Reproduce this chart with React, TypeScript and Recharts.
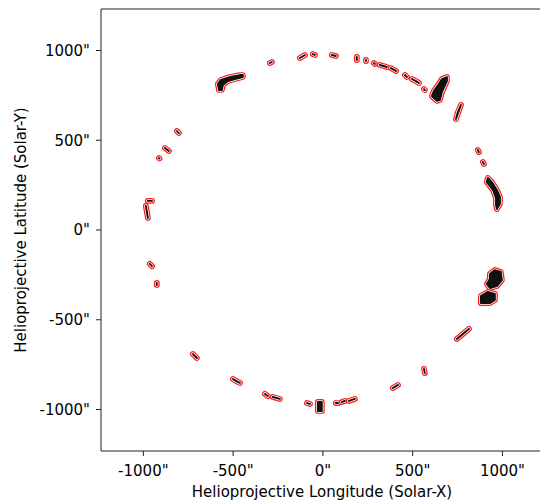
import { Label, Scatter, ScatterChart, XAxis, YAxis } from "recharts";

// contour outlines in arcsec, [Solar-X, Solar-Y]
const northRegions: [number, number][][] = [
  [[-579, 780], [-585, 813], [-568, 836], [-518, 852], [-462, 863], [-446, 863], [-446, 852], [-490, 841], [-529, 830], [-557, 808], [-563, 780]],
  [[-295, 930], [-284, 936]],
  [[-128, 958], [-100, 975]],
  [[-56, 980], [-45, 975]],
  [[50, 975], [72, 969]],
  [[189, 964], [189, 947]],
  [[240, 947], [240, 941]],
  [[284, 930], [290, 925]],
  [[317, 919], [356, 908]],
  [[379, 902], [407, 886]],
  [[457, 863], [468, 852]],
  [[496, 841], [518, 830], [535, 819]],
  [[563, 785], [568, 780]],
  [[663, 841], [691, 852], [691, 830], [663, 769], [652, 724], [635, 719], [607, 746], [618, 774], [646, 813]],
  [[769, 696], [752, 657], [741, 618]],
];

const westRegions: [number, number][][] = [
  [[863, 446], [869, 434]],
  [[891, 379], [897, 368]],
  [[919, 290], [941, 267], [969, 223], [986, 184], [986, 145], [969, 117], [964, 139], [964, 178], [947, 223], [913, 267]],
  [[930, -245], [958, -223], [991, -234], [997, -279], [969, -312], [930, -323], [913, -301], [930, -273]],
  [[880, -368], [919, -345], [958, -356], [958, -390], [930, -407], [880, -407]],
  [[813, -551], [780, -579], [746, -607]],
];

const southRegions: [number, number][][] = [
  [[563, -774], [568, -797]],
  [[390, -880], [418, -863]],
  [[72, -964], [84, -964]],
  [[106, -958], [123, -952]],
  [[145, -952], [178, -941]],
  [[-28, -958], [-6, -958], [-6, -1008], [-28, -1008]],
  [[-89, -964], [-72, -969]],
  [[-323, -913], [-306, -925]],
  [[-279, -930], [-240, -941]],
  [[-501, -830], [-485, -841], [-462, -852]],
  [[-724, -691], [-702, -713]],
];

const eastRegions: [number, number][][] = [
  [[-975, 162], [-952, 162]],
  [[-986, 134], [-980, 100], [-975, 67]],
  [[-964, -189], [-952, -201]],
  [[-925, -295], [-925, -306]],
  [[-880, 457], [-858, 440]],
  [[-913, 401], [-910, 398]],
  [[-813, 551], [-802, 540]],
];

const axisTicks = [-1000, -500, 0, 500, 1000];
const xDomain = [-1236, 1226];
const yDomain = [-1231, 1231];

const FONT = "DejaVu Sans";
const RED = "#ff1a1a";

const regions = [...northRegions, ...westRegions, ...southRegions, ...eastRegions];

const blobLine = (props: any) => {
  const pts: { x: number; y: number }[] = props.points || [];
  if (!pts.length) return <g />;
  const d = pts.map((p, i) => `${i ? "L" : "M"}${p.x},${p.y}`).join("") + "Z";
  const common = { strokeLinejoin: "round" as const, strokeLinecap: "round" as const };
  return (
    <g>
      <path d={d} fill={RED} stroke={RED} strokeWidth={5.8} {...common} />
      <path d={d} fill="#fff" stroke="#fff" strokeWidth={3.4} {...common} />
      <path d={d} fill="#111" stroke="#111" strokeWidth={1.9} {...common} />
    </g>
  );
};

const fmt = (v: number) => `${v}"`;

export default function App() {
  return (
    <div
      style={{
        position: "absolute",
        left: 0,
        top: 0,
        width: 540,
        height: 502,
        overflow: "hidden",
        background: "#fff",
      }}
    >
      <ScatterChart
        width={560}
        height={502}
        margin={{ top: 0, right: 17, bottom: 0, left: 0 }}
      >
        <XAxis
          dataKey="x"
          type="number"
          domain={xDomain}
          allowDataOverflow
          ticks={axisTicks}
          tickFormatter={fmt}
          height={51}
          tickSize={5}
          tickMargin={9}
          stroke="#222"
          tick={{ fontSize: 15, fill: "#000", fontFamily: FONT }}
        >
          <Label
            content={({ viewBox }: any) => (
              <text
                x={viewBox.x + viewBox.width / 2}
                y={497}
                textAnchor="middle"
                fontSize={15}
                fontFamily={FONT}
                fill="#000"
              >
                Helioprojective Longitude (Solar-X)
              </text>
            )}
          />
        </XAxis>
        <XAxis
          xAxisId="top"
          orientation="top"
          type="number"
          domain={xDomain}
          allowDataOverflow
          ticks={axisTicks}
          height={9}
          tickSize={5}
          tick={false}
          stroke="#222"
        />
        <YAxis
          dataKey="y"
          type="number"
          domain={yDomain}
          allowDataOverflow
          ticks={axisTicks}
          tickFormatter={fmt}
          width={101}
          tickSize={5}
          tickMargin={6}
          stroke="#222"
          tick={{ fontSize: 15, fill: "#000", fontFamily: FONT }}
        >
          <Label
            content={({ viewBox }: any) => {
              const cy = viewBox.y + viewBox.height / 2;
              return (
                <text
                  x={26}
                  y={cy}
                  transform={`rotate(-90 26 ${cy})`}
                  textAnchor="middle"
                  fontSize={15}
                  fontFamily={FONT}
                  fill="#000"
                >
                  Helioprojective Latitude (Solar-Y)
                </text>
              );
            }}
          />
        </YAxis>
        {regions.map((poly, i) => (
          <Scatter
            key={i}
            data={poly.map(([x, y]) => ({ x, y }))}
            line={blobLine}
            lineType="joint"
            shape={() => <g />}
            isAnimationActive={false}
          />
        ))}
      </ScatterChart>
    </div>
  );
}
